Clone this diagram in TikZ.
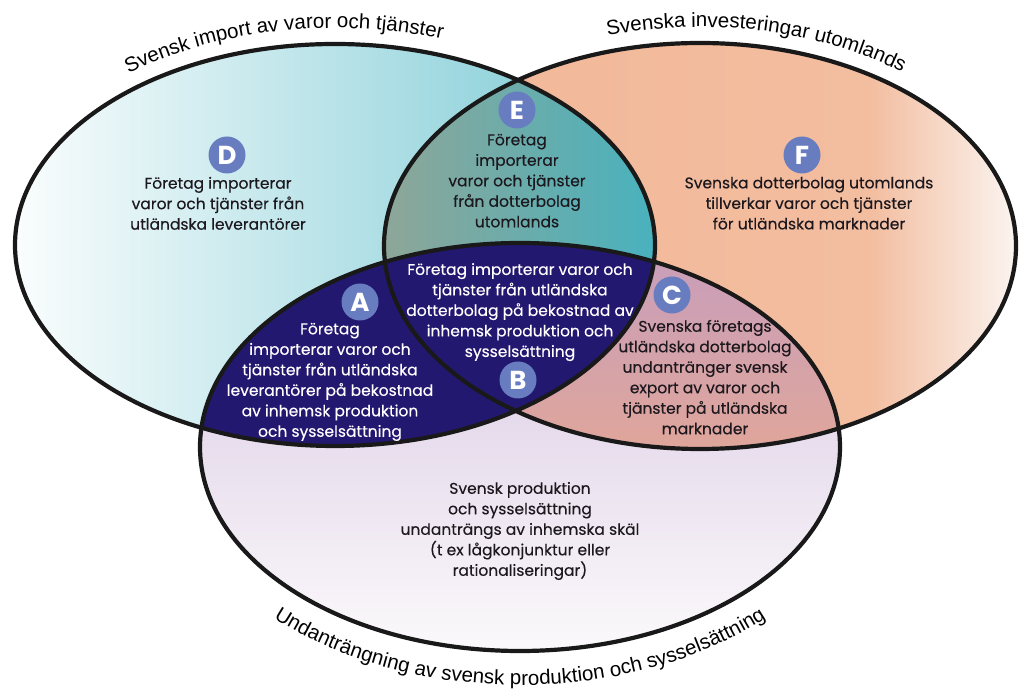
\documentclass[tikz,border=0pt]{standalone}
\usepackage{fontspec}
\setmainfont{Poppins}
\newfontfamily\bodyfont{Poppins}[FakeBold=0.3]
\newfontfamily\arcfont{Liberation Sans}
\usetikzlibrary{positioning, decorations.text}
\usepackage{xcolor}

\definecolor{impwhite}{RGB}{250,253,253}
\definecolor{impteal}{RGB}{118,200,211}
\definecolor{invpeach}{RGB}{242,184,152}
\definecolor{invwhite}{RGB}{251,246,242}
\definecolor{undlav}{RGB}{214,196,224}
\definecolor{undwhite}{RGB}{251,249,251}
\definecolor{egrey}{RGB}{142,166,152}
\definecolor{eteal}{RGB}{72,178,190}
\definecolor{cmauve}{RGB}{200,158,186}
\definecolor{csalmon}{RGB}{224,166,154}
\definecolor{navy}{RGB}{35,24,112}
\definecolor{lettercol}{RGB}{104,124,192}
\definecolor{textcol}{RGB}{28,24,30}

\begin{document}
\begin{tikzpicture}[x=1pt,y=1pt,node distance=2pt]
		\tikzstyle{letter}=[circle, fill=lettercol, text=white, minimum size=37pt,
			inner sep=0pt, font=\fontsize{26}{26}\selectfont\bfseries]
		\tikzstyle{body}=[align=center, inner sep=1pt, text=textcol,
			font=\bodyfont\fontsize{15.5}{20.5}\selectfont]
		\tikzstyle{ring}=[draw=black!90, line width=4.2pt]
		\useasboundingbox (0,0) rectangle (1027,695);

		% centres of the three sets
		\coordinate (imp) at (335,450);
		\coordinate (inv) at (700,449);
		\coordinate (und) at (520,248);

		% fills
		\fill[left color=impwhite, right color=impteal] (imp) ellipse [x radius=320, y radius=201];
		\begin{scope}
			\clip (inv) ellipse [x radius=316, y radius=203];
			\fill[left color=invpeach, right color=invpeach!93!white] (380,240) rectangle (870,660);
			\fill[left color=invpeach!93!white, right color=invwhite] (869.5,240) rectangle (1020,660);
		\end{scope}
		\fill[top color=undlav, bottom color=undwhite] (und) ellipse [x radius=320, y radius=204];
		\begin{scope}
			\clip (imp) ellipse [x radius=320, y radius=201];
			\clip (inv) ellipse [x radius=316, y radius=203];
			\fill[left color=egrey, right color=eteal] (383,240) rectangle (657,660);
		\end{scope}
		\begin{scope}
			\clip (inv) ellipse [x radius=316, y radius=203];
			\clip (und) ellipse [x radius=320, y radius=204];
			\fill[top color=cmauve, bottom color=csalmon] (515,240) rectangle (845,440);
		\end{scope}
		\begin{scope}
			\clip (imp) ellipse [x radius=320, y radius=201];
			\fill[navy] (und) ellipse [x radius=320, y radius=204];
		\end{scope}

		% outlines
		\draw[ring] (imp) ellipse [x radius=320, y radius=201];
		\draw[ring] (inv) ellipse [x radius=316, y radius=203];
		\draw[ring] (und) ellipse [x radius=320, y radius=204];

		% set titles
		\path[decorate, decoration={text along path, text align=center,
			text={|\arcfont\fontsize{20.5}{20.5}\selectfont|Svensk import av varor och tjänster}}]
			(imp) ++(150:336 and 217) arc[start angle=150, end angle=52, x radius=336, y radius=217];
		\path[decorate, decoration={text along path, text align=center,
			text={|\arcfont\fontsize{20.5}{20.5}\selectfont|Svenska investeringar utomlands}}]
			(inv) ++(125:332 and 219) arc[start angle=125, end angle=31, x radius=332, y radius=219];
		\path[decorate, decoration={text along path, text align=center,
			text={|\arcfont\fontsize{20.5}{20.5}\selectfont|Undanträngning av svensk produktion och sysselsättning}}]
			(und) ++(200:354 and 238) arc[start angle=200, end angle=340, x radius=354, y radius=238];

		% letters
		\node[letter] (D) at (227,540) {D};
		\node[letter] (E) at (517,585) {E};
		\node[letter] (F) at (802,540) {F};
		\node[letter] (A) at (360,393) {A};
		\node[letter] (B) at (518,315) {B};
		\node[letter] (C) at (672,400) {C};

		% region texts
		\node[body] (tD) [below=2pt of D, xshift=-9pt] {Företag importerar\\varor och tjänster från\\utländska leverantörer};
		\node[body] (tE) [below=4pt of E] {Företag\\importerar\\varor och tjänster\\från dotterbolag\\utomlands};
		\node[body] (tF) [below=2pt of F, xshift=7pt] {Svenska dotterbolag utomlands\\tillverkar varor och tjänster\\för utländska marknader};
		\node[body, text=white] (tA) [below=1pt of A, xshift=-30pt] {Företag\\importerar varor och\\tjänster från utländska\\leverantörer på bekostnad\\av inhemsk produktion\\och sysselsättning};
		\node[body, text=white] (tB) [above=-1pt of B, xshift=2pt] {Företag importerar varor och\\tjänster från utländska\\dotterbolag på bekostnad av\\inhemsk produktion och\\sysselsättning};
		\node[body] (tC) [below=5pt of C, xshift=33pt] {Svenska företags\\utländska dotterbolag\\undantränger svensk\\export av varor och\\tjänster på utländska\\marknader};
		\node[body] (tU) at (520,164) {Svensk produktion\\och sysselsättning\\undanträngs av inhemska skäl\\(t ex lågkonjunktur eller\\rationaliseringar)};
	\end{tikzpicture}
\end{document}
